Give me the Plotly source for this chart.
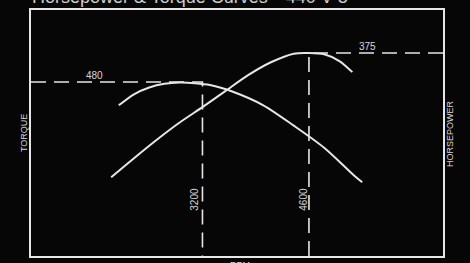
import plotly.graph_objects as go

# ---- data ----
torque_rpm = [2100, 2300, 2500, 2700, 2900, 3100, 3300, 3600, 4000, 4400, 4800, 5200, 5300]
torque_val = [442, 460, 471, 477, 479, 478, 475, 464, 442, 409, 373, 327, 317]

hp_rpm = [2000, 2300, 2600, 2900, 3200, 3500, 3800, 4100, 4400, 4600, 4800, 5000, 5170]
hp_val = [173, 204, 234, 262, 287, 313, 339, 360, 374, 375, 373, 362, 344]

peak_torque_rpm = 3200
peak_torque = 480
peak_hp_rpm = 4600
peak_hp = 375

x_range = [946, 6362]
torque_range = [197, 597]
hp_range = [45, 445]

title = "Horsepower & Torque Curves\u2014440 V-8"

LINE = "#e6e6e6"
TEXT = "#d8d8d8"
BG = "#060606"
FONT = "Liberation Sans, Arial, sans-serif"

fig = go.Figure()

# dashed reference lines
fig.add_trace(go.Scatter(
    x=[x_range[0], peak_torque_rpm, peak_torque_rpm],
    y=[peak_torque, peak_torque, torque_range[0]],
    mode="lines", line=dict(color=LINE, width=1.6, dash="15px,8px"),
    yaxis="y", hoverinfo="skip", showlegend=False))
fig.add_trace(go.Scatter(
    x=[x_range[1], peak_hp_rpm, peak_hp_rpm],
    y=[peak_hp, peak_hp, hp_range[0]],
    mode="lines", line=dict(color=LINE, width=1.6, dash="15px,8px"),
    yaxis="y2", hoverinfo="skip", showlegend=False))

# curves
fig.add_trace(go.Scatter(
    x=torque_rpm, y=torque_val, mode="lines", name="Torque",
    line=dict(color=LINE, width=2, shape="spline", smoothing=0.8),
    yaxis="y", showlegend=False))
fig.add_trace(go.Scatter(
    x=hp_rpm, y=hp_val, mode="lines", name="Horsepower",
    line=dict(color=LINE, width=2, shape="spline", smoothing=0.8),
    yaxis="y2", showlegend=False))

ann = []
ann.append(dict(text=str(peak_torque), x=1787, y=490, xref="x", yref="y",
                xanchor="center", yanchor="middle",
                showarrow=False, font=dict(size=10, color=TEXT, family=FONT)))
ann.append(dict(text=str(peak_hp), x=5376, y=386, xref="x", yref="y2",
                xanchor="center", yanchor="middle",
                showarrow=False, font=dict(size=10, color=TEXT, family=FONT)))
ann.append(dict(text=str(peak_torque_rpm), x=3101, y=290, xref="x", yref="y",
                xanchor="center", yanchor="middle",
                textangle=-90, showarrow=False,
                font=dict(size=10, color=TEXT, family=FONT)))
ann.append(dict(text=str(peak_hp_rpm), x=4534, y=290, xref="x", yref="y",
                xanchor="center", yanchor="middle",
                textangle=-90, showarrow=False,
                font=dict(size=10, color=TEXT, family=FONT)))
ann.append(dict(text="TORQUE", x=24, y=133, xref="paper", yref="paper",
                xanchor="center", yanchor="middle",
                textangle=-90, showarrow=False,
                font=dict(size=9, color=TEXT, family=FONT)))
ann.append(dict(text="HORSEPOWER", x=450, y=134, xref="paper", yref="paper",
                xanchor="center", yanchor="middle",
                textangle=-90, showarrow=False,
                font=dict(size=9, color=TEXT, family=FONT)))
ann.append(dict(text="RPM", x=240, y=258, xref="paper", yref="paper",
                xanchor="center", yanchor="top", showarrow=False,
                font=dict(size=9, color=TEXT, family=FONT)))
ann.append(dict(text=title, x=30, y=9, xref="paper", yref="paper",
                xanchor="left", yanchor="bottom", showarrow=False,
                font=dict(size=18, color="#cfcfcf", family=FONT)))

# convert pixel positions of the free texts into paper coordinates
L, R, T, B, W, H = 31, 27, 10, 7, 470, 263
pw, ph = W - L - R, H - T - B
for a in ann:
    if a["xref"] == "paper":
        a["x"] = (a["x"] - L) / pw
        a["y"] = (H - B - a["y"]) / ph

axis_common = dict(showgrid=False, zeroline=False, showticklabels=False,
                   ticks="", showline=True, linecolor=LINE, linewidth=2)

fig.update_layout(
    width=W, height=H,
    margin=dict(l=L, r=R, t=T, b=B),
    paper_bgcolor=BG, plot_bgcolor=BG,
    xaxis=dict(range=x_range, mirror=True, **axis_common),
    yaxis=dict(range=torque_range, mirror=True, **axis_common),
    yaxis2=dict(range=hp_range, overlaying="y", side="right",
                showgrid=False, zeroline=False, showticklabels=False,
                ticks="", showline=False),
    annotations=ann,
    hovermode=False,
)

fig.write_html("out.html", config={"displayModeBar": False},
               post_script="document.body.style.margin='0px';document.body.style.background='%s';" % BG)
